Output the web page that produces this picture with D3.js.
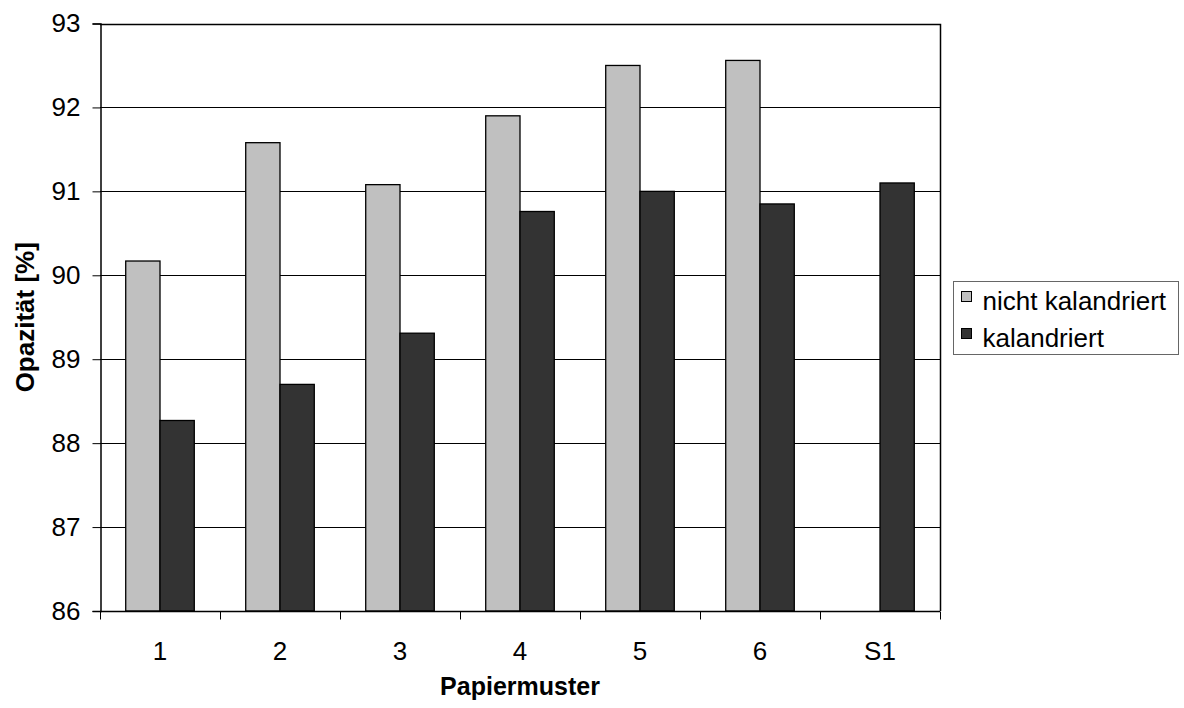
<!DOCTYPE html>
<html>
<head>
<meta charset="utf-8">
<script src="https://cdn.jsdelivr.net/npm/d3@7"></script>
<style>
  html, body { margin: 0; padding: 0; background: #fff; }
  svg { display: block; font-family: "Liberation Sans", Arial, sans-serif; }
</style>
</head>
<body>
<svg id="chart" width="1184" height="708"></svg>
<script>
// Opacity of paper samples, uncalendered vs. calendered
const categories = ["1", "2", "3", "4", "5", "6", "S1"];
const seriesNames = ["nicht kalandriert", "kalandriert"];
const nichtKalandriert = [90.17, 91.58, 91.08, 91.90, 92.50, 92.56, null];
const kalandriert = [88.27, 88.70, 89.31, 90.76, 91.00, 90.85, 91.10];
const yTicks = [86, 87, 88, 89, 90, 91, 92, 93];

const colors = ["#c0c0c0", "#333333"];
const seriesValues = [nichtKalandriert, kalandriert];

const svg = d3.select("#chart");
const plot = { left: 100, right: 940, top: 23.5, bottom: 611 };

const x = d3.scaleBand().domain(categories).range([plot.left, plot.right]).padding(0);
const xInner = d3.scaleBand().domain(d3.range(seriesNames.length))
  .range([0, x.bandwidth()]).paddingInner(0).paddingOuter(0.75);
const y = d3.scaleLinear().domain([86, 93]).range([plot.bottom, plot.top]);

// horizontal gridlines
svg.append("g")
  .selectAll("line")
  .data(yTicks)
  .join("line")
  .attr("x1", plot.left).attr("x2", plot.right)
  .attr("y1", d => Math.round(y(d)) + 0.5).attr("y2", d => Math.round(y(d)) + 0.5)
  .attr("stroke", "#000").attr("stroke-width", 1);

// bars
const groups = svg.append("g")
  .selectAll("g")
  .data(categories)
  .join("g")
  .attr("transform", d => `translate(${x(d)},0)`);

groups.selectAll("rect")
  .data((c, i) => seriesValues.map((vals, s) => ({ s, v: vals[i] })).filter(d => d.v != null))
  .join("rect")
  .attr("x", d => xInner(d.s))
  .attr("width", xInner.bandwidth())
  .attr("y", d => y(d.v))
  .attr("height", d => y(86) - y(d.v))
  .attr("fill", d => colors[d.s])
  .attr("stroke", "#000")
  .attr("stroke-width", 1.3);

// plot frame (top and right)
svg.append("path")
  .attr("d", `M${plot.left},${Math.round(plot.top) + 0.5}H${plot.right + 0.5}V${plot.bottom}`)
  .attr("fill", "none").attr("stroke", "#000").attr("stroke-width", 1.5);

// y axis
const yAxis = d3.axisLeft(y).tickValues(yTicks).tickSize(8).tickPadding(12).tickFormat(d3.format("d"));
const gy = svg.append("g").attr("transform", `translate(${plot.left + 0.5},0)`).call(yAxis);
gy.select(".domain").attr("stroke", "#000").attr("stroke-width", 1.5);
gy.selectAll(".tick line").attr("stroke", "#000");
gy.selectAll(".tick text").attr("font-size", 26).attr("fill", "#000")
  .attr("font-family", "'Liberation Sans', Arial, sans-serif");

// x axis (ticks between categories)
const gx = svg.append("g").attr("transform", `translate(0,${plot.bottom + 0.5})`);
gx.append("line").attr("x1", plot.left).attr("x2", plot.right).attr("stroke", "#000").attr("stroke-width", 1.5);
gx.selectAll("line.sep")
  .data(categories.concat(["end"]))
  .join("line")
  .attr("class", "sep")
  .attr("x1", (d, i) => plot.left + i * x.step() + 0.5)
  .attr("x2", (d, i) => plot.left + i * x.step() + 0.5)
  .attr("y1", 0).attr("y2", 8)
  .attr("stroke", "#000");
gx.selectAll("text")
  .data(categories)
  .join("text")
  .attr("x", d => x(d) + x.bandwidth() / 2)
  .attr("y", 48)
  .attr("text-anchor", "middle")
  .attr("font-size", 26)
  .text(d => d);

// axis titles
svg.append("text")
  .attr("x", (plot.left + plot.right) / 2)
  .attr("y", 695)
  .attr("text-anchor", "middle")
  .attr("font-size", 25)
  .attr("font-weight", "bold")
  .text("Papiermuster");

svg.append("text")
  .attr("transform", `translate(34,${(plot.top + plot.bottom) / 2}) rotate(-90)`)
  .attr("text-anchor", "middle")
  .attr("font-size", 26)
  .attr("font-weight", "bold")
  .text("Opazität [%]");

// legend
const legend = svg.append("g").attr("transform", "translate(953.5,281.5)");
legend.append("rect")
  .attr("width", 225).attr("height", 73)
  .attr("fill", "#fff").attr("stroke", "#666").attr("stroke-width", 1);
const items = legend.selectAll("g.item")
  .data(seriesNames)
  .join("g")
  .attr("class", "item")
  .attr("transform", (d, i) => `translate(0,${10 + i * 37})`);
items.append("rect")
  .attr("x", 8).attr("y", 0).attr("width", 10).attr("height", 10)
  .attr("fill", (d, i) => colors[i]).attr("stroke", "#000").attr("stroke-width", 1);
items.append("text")
  .attr("x", 29).attr("y", 18)
  .attr("font-size", 26)
  .text(d => d);
</script>
</body>
</html>
